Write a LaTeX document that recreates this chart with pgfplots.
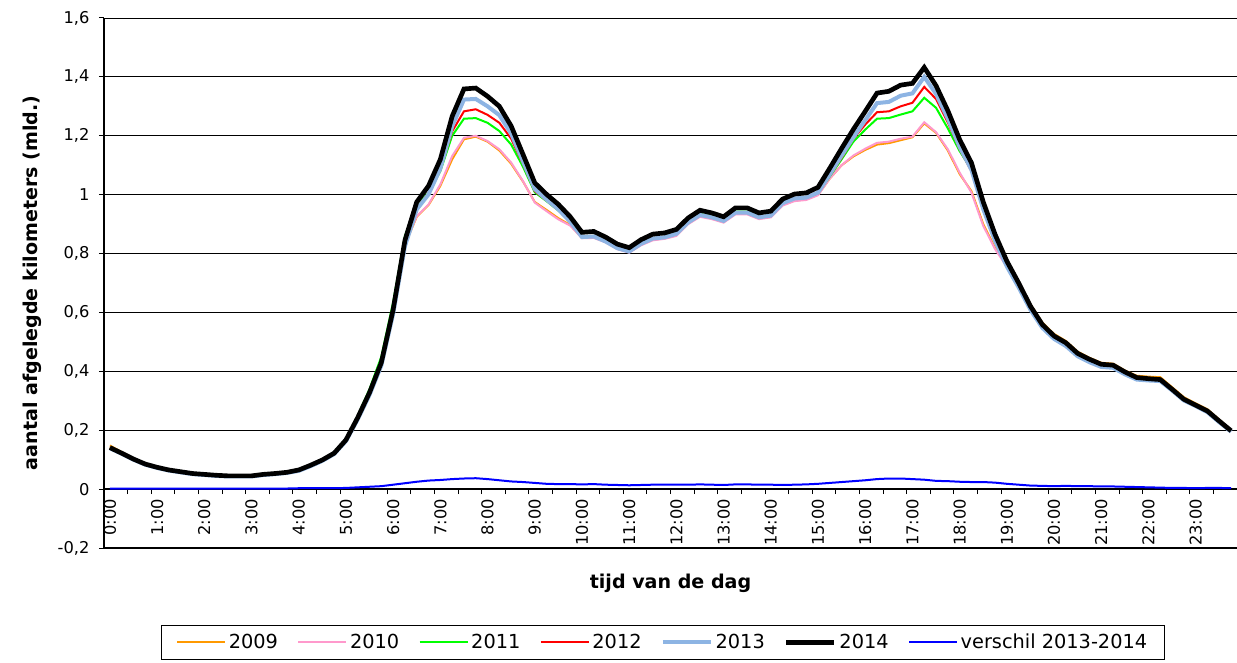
\documentclass[border=0pt]{standalone}
\usepackage{fontspec}
\setmainfont{DejaVu Sans}
\usepackage{pgfplots}
\usepackage{pgfplotstable}
\pgfplotsset{compat=1.18}
\definecolor{c09}{RGB}{255,153,0}
\definecolor{c10}{RGB}{255,153,204}
\definecolor{c11}{RGB}{0,255,0}
\definecolor{c12}{RGB}{255,0,0}
\definecolor{c13}{RGB}{141,180,227}
\definecolor{cv}{RGB}{0,0,255}

\pgfplotstableread{
n y09 y10 y11 y12 y13 y14 d
0 0.148 0.141 0.141 0.141 0.139 0.141 0.002
1 0.126 0.122 0.122 0.122 0.120 0.122 0.002
2 0.105 0.102 0.102 0.102 0.100 0.102 0.002
3 0.087 0.085 0.085 0.085 0.083 0.085 0.002
4 0.075 0.074 0.074 0.074 0.072 0.074 0.002
5 0.066 0.065 0.065 0.065 0.063 0.065 0.002
6 0.059 0.059 0.059 0.059 0.057 0.059 0.002
7 0.053 0.053 0.053 0.053 0.051 0.053 0.002
8 0.050 0.050 0.050 0.050 0.048 0.050 0.002
9 0.047 0.047 0.047 0.047 0.045 0.047 0.002
10 0.045 0.045 0.045 0.045 0.043 0.045 0.002
11 0.045 0.045 0.045 0.045 0.043 0.045 0.002
12 0.045 0.045 0.045 0.045 0.043 0.045 0.002
13 0.050 0.050 0.050 0.050 0.048 0.050 0.002
14 0.053 0.053 0.053 0.053 0.051 0.053 0.002
15 0.057 0.057 0.057 0.057 0.055 0.057 0.002
16 0.065 0.065 0.066 0.065 0.062 0.065 0.003
17 0.081 0.081 0.082 0.081 0.078 0.081 0.003
18 0.099 0.099 0.101 0.099 0.096 0.099 0.003
19 0.122 0.122 0.125 0.122 0.119 0.122 0.003
20 0.167 0.167 0.170 0.167 0.163 0.167 0.004
21 0.245 0.245 0.250 0.243 0.237 0.243 0.006
22 0.330 0.330 0.340 0.330 0.320 0.328 0.008
23 0.430 0.430 0.450 0.432 0.420 0.430 0.010
24 0.600 0.605 0.635 0.610 0.595 0.610 0.015
25 0.830 0.830 0.860 0.840 0.825 0.845 0.020
26 0.925 0.927 0.970 0.955 0.950 0.975 0.025
27 0.965 0.967 1.005 1.005 1.001 1.030 0.029
28 1.030 1.035 1.080 1.085 1.089 1.120 0.031
29 1.120 1.131 1.200 1.215 1.232 1.266 0.034
30 1.188 1.193 1.258 1.283 1.323 1.359 0.036
31 1.197 1.200 1.260 1.290 1.325 1.362 0.037
32 1.180 1.182 1.244 1.271 1.300 1.334 0.034
33 1.150 1.154 1.216 1.244 1.270 1.300 0.030
34 1.105 1.109 1.170 1.190 1.207 1.233 0.026
35 1.045 1.046 1.095 1.105 1.113 1.137 0.024
36 0.975 0.973 1.008 1.012 1.019 1.040 0.021
37 0.948 0.944 0.978 0.980 0.983 1.001 0.018
38 0.920 0.916 0.946 0.948 0.950 0.967 0.017
39 0.897 0.895 0.910 0.910 0.908 0.925 0.017
40 0.853 0.852 0.858 0.858 0.856 0.872 0.016
41 0.855 0.853 0.860 0.860 0.858 0.875 0.017
42 0.840 0.838 0.843 0.843 0.841 0.856 0.015
43 0.816 0.815 0.820 0.820 0.818 0.832 0.014
44 0.805 0.803 0.808 0.808 0.807 0.820 0.013
45 0.830 0.828 0.835 0.835 0.833 0.847 0.014
46 0.847 0.845 0.853 0.853 0.851 0.866 0.015
47 0.852 0.850 0.857 0.857 0.855 0.870 0.015
48 0.862 0.860 0.870 0.868 0.867 0.882 0.015
49 0.902 0.900 0.910 0.908 0.906 0.921 0.015
50 0.927 0.925 0.935 0.933 0.931 0.947 0.016
51 0.919 0.917 0.926 0.925 0.923 0.938 0.015
52 0.907 0.905 0.913 0.912 0.911 0.925 0.014
53 0.935 0.933 0.942 0.940 0.939 0.955 0.016
54 0.935 0.933 0.942 0.940 0.939 0.955 0.016
55 0.919 0.917 0.925 0.924 0.923 0.938 0.015
56 0.925 0.923 0.930 0.930 0.929 0.944 0.015
57 0.965 0.963 0.972 0.972 0.971 0.985 0.014
58 0.980 0.978 0.988 0.988 0.987 1.002 0.015
59 0.984 0.982 0.990 0.990 0.990 1.006 0.016
60 1.000 0.998 1.005 1.005 1.007 1.025 0.018
61 1.055 1.055 1.062 1.065 1.069 1.090 0.021
62 1.100 1.100 1.120 1.125 1.133 1.157 0.024
63 1.130 1.133 1.180 1.190 1.195 1.222 0.027
64 1.152 1.156 1.221 1.238 1.253 1.283 0.030
65 1.170 1.176 1.258 1.280 1.311 1.345 0.034
66 1.175 1.180 1.260 1.283 1.315 1.351 0.036
67 1.185 1.190 1.272 1.300 1.336 1.372 0.036
68 1.195 1.197 1.283 1.312 1.344 1.378 0.034
69 1.242 1.246 1.329 1.366 1.400 1.432 0.032
70 1.210 1.212 1.295 1.325 1.342 1.370 0.028
71 1.150 1.154 1.225 1.245 1.258 1.285 0.027
72 1.070 1.075 1.148 1.155 1.162 1.187 0.025
73 1.012 1.007 1.085 1.080 1.084 1.108 0.024
74 0.900 0.894 0.962 0.955 0.951 0.975 0.024
75 0.820 0.815 0.855 0.850 0.843 0.865 0.022
76 0.765 0.755 0.768 0.765 0.756 0.774 0.018
77 0.705 0.692 0.698 0.697 0.685 0.700 0.015
78 0.628 0.618 0.622 0.620 0.609 0.621 0.012
79 0.566 0.556 0.560 0.557 0.548 0.559 0.011
80 0.527 0.517 0.520 0.518 0.510 0.520 0.010
81 0.503 0.494 0.497 0.495 0.486 0.497 0.011
82 0.467 0.458 0.461 0.459 0.451 0.461 0.010
83 0.446 0.438 0.441 0.439 0.431 0.441 0.010
84 0.429 0.421 0.424 0.422 0.415 0.424 0.009
85 0.426 0.418 0.420 0.419 0.412 0.421 0.009
86 0.403 0.395 0.398 0.397 0.390 0.398 0.008
87 0.385 0.377 0.379 0.378 0.372 0.379 0.007
88 0.382 0.373 0.375 0.374 0.369 0.375 0.006
89 0.380 0.370 0.372 0.371 0.367 0.372 0.005
90 0.346 0.337 0.340 0.338 0.335 0.339 0.004
91 0.312 0.303 0.306 0.304 0.301 0.305 0.004
92 0.291 0.283 0.286 0.284 0.282 0.285 0.003
93 0.271 0.263 0.266 0.264 0.261 0.265 0.004
94 0.236 0.229 0.232 0.230 0.227 0.231 0.004
95 0.200 0.196 0.198 0.197 0.195 0.198 0.003
}\data

\begin{document}
\begin{tikzpicture}
\begin{axis}[
  scale only axis, width=849.75pt, height=397.5pt,
  xmin=-0.5, xmax=95.5, ymin=-0.2, ymax=1.6,
  axis x line=middle, axis y line=left,
  axis line style={-, black, line width=1.5pt},
  ytick={-0.2,0,0.2,0.4,0.6,0.8,1,1.2,1.4,1.6},
  yticklabels={{-0,2},{0},{0,2},{0,4},{0,6},{0,8},{1},{1,2},{1,4},{1,6}},
  xtick={0,4,8,12,16,20,24,28,32,36,40,44,48,52,56,60,64,68,72,76,80,84,88,92},
  xticklabels={0:00,1:00,2:00,3:00,4:00,5:00,6:00,7:00,8:00,9:00,10:00,11:00,12:00,13:00,14:00,15:00,16:00,17:00,18:00,19:00,20:00,21:00,22:00,23:00},
  minor xtick={1.5,3.5,...,93.5},
  ymajorgrids, major grid style={black, line width=0.6pt},
  tick align=outside,
  major tick length=3.75pt, minor tick length=3.75pt,
  major x tick style={draw=none},
  minor x tick style={black, line width=0.6pt},
  y tick style={black, line width=0.75pt},
  tick label style={font=\fontsize{12.2}{14}\selectfont},
  every y tick label/.append style={inner xsep=7pt},
  xticklabel style={rotate=90, anchor=east},
  xlabel={tijd van de dag},
  xlabel style={at={(axis description cs:0.5,-0.0755)}, anchor=base, font=\bfseries\fontsize{14.3}{16}\selectfont},
  ylabel={aantal afgelegde kilometers (mld.)},
  ylabel style={at={(axis description cs:-0.0591,0.5)}, anchor=base, font=\bfseries\fontsize{14.3}{16}\selectfont},
  legend columns=-1,
  legend style={at={(axis description cs:0.4934,-0.1453)}, anchor=north, draw=black,
    font=\fontsize{14.5}{16}\selectfont, inner xsep=11pt, inner ysep=4.5pt,
    /tikz/every even column/.append style={column sep=12.5pt}},
  legend image code/.code={\draw[#1] (0pt,0pt) -- (36pt,0pt);},
]
\addplot[c09, line width=1.5pt] table[x=n,y=y09]{\data}; \addlegendentry{2009}
\addplot[c10, line width=1.5pt] table[x=n,y=y10]{\data}; \addlegendentry{2010}
\addplot[c11, line width=1.5pt] table[x=n,y=y11]{\data}; \addlegendentry{2011}
\addplot[c12, line width=1.5pt] table[x=n,y=y12]{\data}; \addlegendentry{2012}
\addplot[c13, line width=3pt] table[x=n,y=y13]{\data}; \addlegendentry{2013}
\addplot[black, line width=3.5pt] table[x=n,y=y14]{\data}; \addlegendentry{2014}
\addplot[cv, line width=1.5pt] table[x=n,y=d]{\data}; \addlegendentry{verschil 2013-2014}
\draw[black, line width=1.2pt] (rel axis cs:0,0) -- (rel axis cs:1,0);
\coordinate (SW) at (rel axis cs:0,0);
\coordinate (NE) at (rel axis cs:1,1);
\end{axis}
\pgfresetboundingbox
\path[use as bounding box] ([xshift=-78pt,yshift=-86.25pt]SW) rectangle ([yshift=13.5pt]NE);
\end{tikzpicture}
\end{document}
